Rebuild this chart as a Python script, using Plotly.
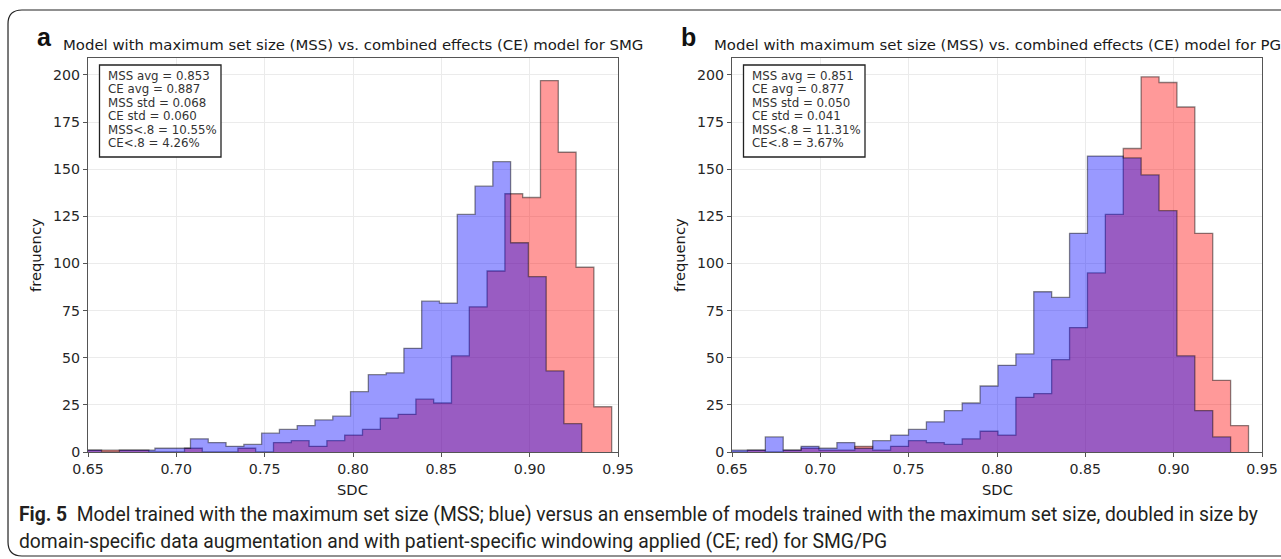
import numpy as np
import plotly.graph_objects as go

W, H = 1281, 559

# ---------------- data ----------------
# Panel a (SMG)
smg_mss_start = 0.6476
smg_mss_width = 0.010067
smg_mss_counts = [1, 0, 1, 1, 2, 2, 7, 5, 3, 4, 10, 12, 14, 17, 19, 32, 41, 42, 55, 80,
                  79, 126, 141, 154, 111, 93, 43, 15]
smg_ce_start = 0.64417
smg_ce_width = 0.010075
smg_ce_counts = [1, 1, 1, 1, 0, 0, 2, 0, 0, 2, 0, 5, 6, 3, 6, 9, 12, 18, 20, 28,
                 26, 51, 77, 96, 137, 135, 197, 159, 98, 24]

# Panel b (PG)
pg_mss_start = 0.6486
pg_mss_width = 0.01013
pg_mss_counts = [1, 1, 8, 1, 3, 2, 5, 2, 6, 9, 12, 16, 22, 26, 35, 46, 52, 85, 82, 116,
                 157, 157, 156, 147, 128, 51, 22, 8]
pg_ce_start = 0.6486
pg_ce_width = 0.01013
pg_ce_counts = [0, 1, 0, 1, 2, 1, 1, 3, 1, 3, 6, 5, 4, 7, 11, 9, 29, 31, 49, 66,
                95, 126, 161, 199, 196, 183, 116, 38, 14]

x_ticks = [0.65, 0.70, 0.75, 0.80, 0.85, 0.90, 0.95]
y_ticks = [0, 25, 50, 75, 100, 125, 150, 175, 200]

titles = ["Model with maximum set size (MSS) vs. combined effects (CE) model for SMG",
          "Model with maximum set size (MSS) vs. combined effects (CE) model for PG"]
panel_letters = ["a", "b"]
stats_text = [
    ["MSS avg = 0.853", "CE avg = 0.887", "MSS std = 0.068", "CE std = 0.060",
     "MSS<.8 = 10.55%", "CE<.8 = 4.26%"],
    ["MSS avg = 0.851", "CE avg = 0.877", "MSS std = 0.050", "CE std = 0.041",
     "MSS<.8 = 11.31%", "CE<.8 = 3.67%"],
]
caption_1 = ("<b>Fig. 5</b>  Model trained with the maximum set size (MSS; blue) versus an ensemble of "
             "models trained with the maximum set size, doubled in size by")
caption_2 = ("domain-specific data augmentation and with patient-specific windowing applied "
             "(CE; red) for SMG/PG")


def px(x):
    return x / W


def py(y):
    return 1 - y / H


def step_xy(start, width, counts):
    edges = start + width * np.arange(len(counts) + 1)
    xs = [edges[0]] + list(edges[:-1]) + [edges[-1]]
    ys = [0] + list(counts) + [0]
    return xs, ys


fig = go.Figure()

RED_FILL = "rgba(255,0,0,0.4)"
BLUE_FILL = "rgba(0,0,255,0.4)"
EDGE = "rgba(0,0,0,0.45)"

panels = [
    dict(xa="x", ya="y", ce=(smg_ce_start, smg_ce_width, smg_ce_counts),
         mss=(smg_mss_start, smg_mss_width, smg_mss_counts)),
    dict(xa="x2", ya="y2", ce=(pg_ce_start, pg_ce_width, pg_ce_counts),
         mss=(pg_mss_start, pg_mss_width, pg_mss_counts)),
]

for p in panels:
    for key, fillc in (("ce", RED_FILL), ("mss", BLUE_FILL)):
        xs, ys = step_xy(*p[key])
        fig.add_trace(go.Scatter(
            x=xs, y=ys, mode="lines", line=dict(shape="hv", color=EDGE, width=1.3),
            fill="tozeroy", fillcolor=fillc, xaxis=p["xa"], yaxis=p["ya"],
            hoverinfo="skip", showlegend=False))

# axes geometry (pixels)
ax_left = [88, 732]
ax_right = [618, 1262]
ax_top = 58
ax_bottom = 452

axis_common = dict(showline=True, mirror=True, linecolor="#555555", linewidth=1,
                   showgrid=True, gridcolor="#ebebeb", gridwidth=1, zeroline=False,
                   ticks="outside", ticklen=4, tickcolor="#555555", automargin=False,
                   tickfont=dict(family="DejaVu Sans", size=14.2, color="#262626"))

layout_axes = {}
for i in range(2):
    sx = "" if i == 0 else "2"
    layout_axes["xaxis" + sx] = dict(
        domain=[px(ax_left[i]), px(ax_right[i])], range=[0.65, 0.95],
        tickvals=x_ticks, ticktext=[f"{t:.2f}" for t in x_ticks],
        anchor="y" + sx, **axis_common)
    layout_axes["yaxis" + sx] = dict(
        domain=[py(ax_bottom), py(ax_top)], range=[0, 209],
        tickvals=y_ticks, anchor="x" + sx, **axis_common)

fig.update_layout(
    width=W, height=H, margin=dict(l=0, r=0, t=0, b=0, autoexpand=False),
    paper_bgcolor="white", plot_bgcolor="white", showlegend=False,
    **layout_axes)

box_left = [99.5, 743.5]
box_right = [221, 865]
box_top = 65
box_bottom = 157

annotations = []
for i in range(2):
    cx = (ax_left[i] + ax_right[i]) / 2
    # title
    annotations.append(dict(x=px(cx), y=py(45), xref="paper", yref="paper",
                            text=titles[i], showarrow=False, xanchor="center", yanchor="middle",
                            font=dict(family="DejaVu Sans", size=14.9, color="#1a1a1a")))
    # panel letter
    annotations.append(dict(x=px([35, 679][i]), y=py(36.5), xref="paper", yref="paper",
                            text="<b>" + panel_letters[i] + "</b>", showarrow=False,
                            xanchor="left", yanchor="middle",
                            font=dict(family="Liberation Sans", size=25, color="#111111")))
    # x label
    annotations.append(dict(x=px(cx), y=py(489), xref="paper", yref="paper",
                            text="SDC", showarrow=False, xanchor="center", yanchor="middle",
                            font=dict(family="DejaVu Sans", size=14.7, color="#1a1a1a")))
    # y label
    annotations.append(dict(x=px(ax_left[i] - 53), y=py((ax_top + ax_bottom) / 2),
                            xref="paper", yref="paper", text="frequency", textangle=-90,
                            showarrow=False, xanchor="center", yanchor="middle",
                            font=dict(family="DejaVu Sans", size=14.7, color="#1a1a1a")))
    # stats box: frame + lines
    fig.add_shape(type="rect", xref="paper", yref="paper",
                  x0=px(box_left[i]), x1=px(box_right[i]), y0=py(box_bottom), y1=py(box_top),
                  line=dict(color="#222222", width=1.3), fillcolor="white", layer="above")
    for k, line in enumerate(stats_text[i]):
        annotations.append(dict(x=px(box_left[i] + 6), y=py(75.7 + 13.5 * k),
                                xref="paper", yref="paper", text=line, showarrow=False,
                                xanchor="left", yanchor="middle", align="left",
                                font=dict(family="DejaVu Sans", size=11.8, color="#333333")))

annotations.append(dict(x=px(17), y=py(514), xref="paper", yref="paper", text=caption_1,
                        showarrow=False, xanchor="left", yanchor="middle", align="left",
                        font=dict(family="Roboto", size=19.3, color="#231f20")))
annotations.append(dict(x=px(17), y=py(541), xref="paper", yref="paper", text=caption_2,
                        showarrow=False, xanchor="left", yanchor="middle", align="left",
                        font=dict(family="Roboto", size=19.3, color="#231f20")))
fig.update_layout(annotations=annotations)

# outer rounded frame
def P(x, y):
    return f"{px(x):.5f},{py(y):.5f}"

frame_path = (f"M {P(1290, 10)} L {P(22, 10)} Q {P(8, 10)} {P(8, 24)} "
              f"L {P(8, 542)} Q {P(8, 556)} {P(22, 556)} L {P(1290, 556)}")
fig.add_shape(type="path", path=frame_path, xref="paper", yref="paper",
              line=dict(color="#222222", width=1.2))

fig.write_html("out.html")
